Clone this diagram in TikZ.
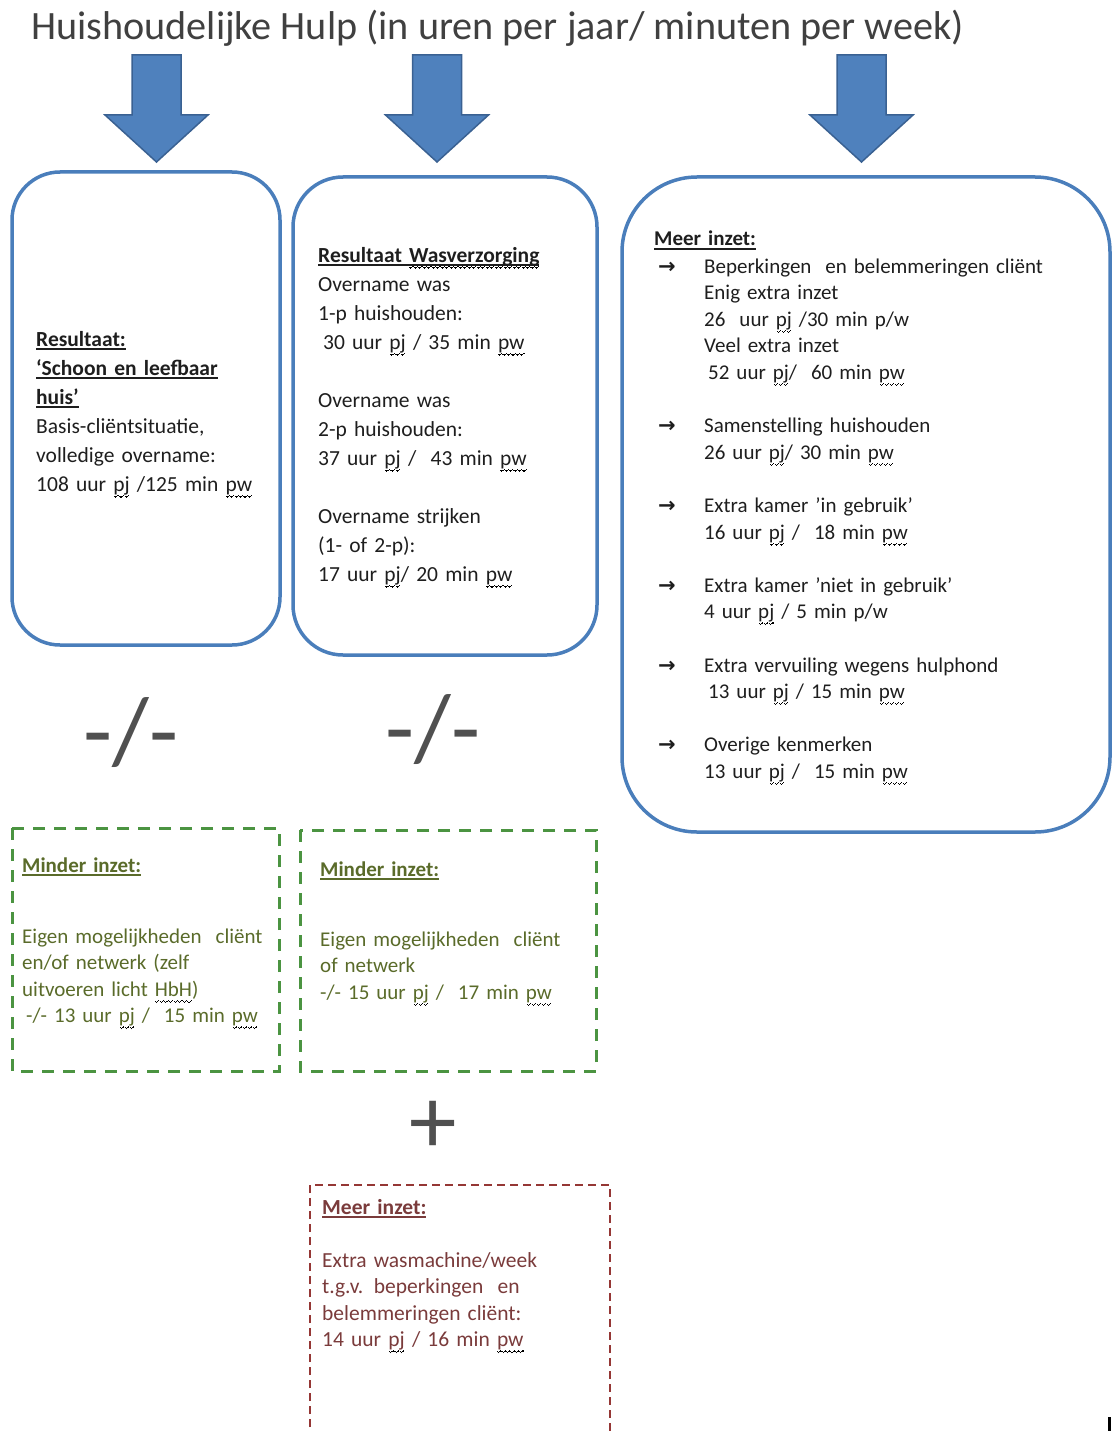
\documentclass[tikz,border=0pt]{standalone}
\usepackage{fontspec}
\setmainfont{Carlito}
\newfontfamily\djv{DejaVu Sans}
\newsavebox\wavebox
\sbox\wavebox{\rule[-5.6pt]{1.1pt}{1.1pt}\rule[-6.5pt]{1.1pt}{1.1pt}\rule[-5.6pt]{1.1pt}{1.1pt}\rule[-4.7pt]{1.1pt}{1.1pt}}
\newcommand\ul[1]{\setbox0\hbox{#1}\rlap{\rule[-3.8pt]{\wd0}{1.4pt}}\box0\relax}
\newcommand\spw[1]{\setbox0\hbox{#1}\rlap{\textcolor{red}{\hbox to \wd0{\xleaders\copy\wavebox\hfil}}}\box0\relax}
\definecolor{boxblue}{HTML}{4A7EBB}
\definecolor{arrowfill}{HTML}{4F81BD}
\definecolor{arrowline}{HTML}{3A6192}
\definecolor{dashgreen}{HTML}{4B9441}
\definecolor{dashred}{HTML}{953735}
\definecolor{greentxt}{HTML}{5A6B2A}
\definecolor{redtxt}{HTML}{7A3B3B}
\definecolor{maintxt}{HTML}{1E1E1E}
\definecolor{titlegray}{HTML}{404040}
\definecolor{symgray}{HTML}{505050}
\tikzset{
  bigarrow/.style={fill=arrowfill, draw=arrowline, line width=1.5pt, line join=miter},
  rbox/.style={draw=boxblue, line width=3.5pt},
  gbox/.style={draw=dashgreen, line width=3pt, dash pattern=on 12pt off 9pt},
  rdbox/.style={draw=dashred, line width=2.5pt, dash pattern=on 8pt off 5pt},
  txt/.style={anchor=base west, inner sep=0pt, align=left, text width=440pt,
    text=maintxt, font=\fontsize{21.5}{29}\selectfont},
  txtb/.style={txt, font=\fontsize{21}{26.6}\selectfont},
  gtxt/.style={txtb, text=greentxt},
  rtxt/.style={txt, font=\fontsize{21.5}{26.6}\selectfont, text=redtxt},
  arrowtxt/.style={anchor=base west, inner sep=0pt, text=maintxt, font=\djv\bfseries\fontsize{21}{21}\selectfont},
  symb/.style={inner sep=0pt, text=symgray},
}
\begin{document}
\begin{tikzpicture}[x=1pt,y=-1pt]
\useasboundingbox (0,0) rectangle (1113,1431);
% title
\node[anchor=base west, inner sep=0pt, text=titlegray, font=\fontsize{40.2}{40}\selectfont] (title) at (31,40)
  {Huishoudelijke Hulp (in uren per jaar/ minuten per week)};
% arrows
\foreach \cx/\nm in {156.5/a1, 437/a2, 861.5/a3}{
  \filldraw[bigarrow] (\cx-24.5,55) -- (\cx+24.5,55) -- (\cx+24.5,115) -- (\cx+51.5,115)
    -- (\cx,162) -- (\cx-51.5,115) -- (\cx-24.5,115) -- cycle;
  \coordinate (\nm) at (\cx,162);
}
% rounded boxes
\draw[rbox, rounded corners=48pt] (12,172) rectangle (280,645);
\draw[rbox, rounded corners=50pt] (293,177) rectangle (597,655);
\draw[rbox, rounded corners=75pt] (622,177) rectangle (1110,832);
% box 1 text
\node[txt] (t1) at (36,346) {%
\textbf{\ul{Resultaat:}}\\
\textbf{\ul{‘Schoon en leefbaar}}\\
\textbf{\ul{huis’}}\\
Basis-cliëntsituatie,\\
volledige overname:\\
108 uur \spw{pj} /125 min \spw{pw}};
% box 2 text
\node[txt] (t2) at (318,262) {%
\textbf{\ul{Resultaat \spw{Wasverzorging}}}\\
Overname was\\
1-p huishouden:\\
\hspace*{5pt}30 uur \spw{pj} / 35 min \spw{pw}\\
\mbox{}\\
Overname was\\
2-p huishouden:\\
37 uur \spw{pj} /\ \ 43 min \spw{pw}\\
\mbox{}\\
Overname strijken\\
(1- of 2-p):\\
17 uur \spw{pj}/ 20 min \spw{pw}};
% box 3 text
\node[txtb] (t3h) at (654,246) {\textbf{\ul{Meer inzet:}}};
\foreach \y [count=\i] in {273,432.6,512.4,592.2,672,751.8}
  \node[arrowtxt] (ar\i) at (658,\y) {→};
\node[txtb] (t3) at (704,273) {%
Beperkingen\ \ en belemmeringen cliënt\\
Enig extra inzet\\
26\ \ uur \spw{pj} /30 min p/w\\
Veel extra inzet\\
\hspace*{4pt}52 uur \spw{pj}/\ \ 60 min \spw{pw}\\
\mbox{}\\
Samenstelling huishouden\\
26 uur \spw{pj}/ 30 min \spw{pw}\\
\mbox{}\\
Extra kamer ’in gebruik’\\
16 uur \spw{pj} /\ \ 18 min \spw{pw}\\
\mbox{}\\
Extra kamer ’niet in gebruik’\\
4 uur \spw{pj} / 5 min p/w\\
\mbox{}\\
Extra vervuiling wegens hulphond\\
\hspace*{4pt}13 uur \spw{pj} / 15 min \spw{pw}\\
\mbox{}\\
Overige kenmerken\\
13 uur \spw{pj} /\ \ 15 min \spw{pw}};
% -/- symbols
\node[symb, font=\fontsize{95}{95}\selectfont] (m1) at (131,733) {-/-};
\node[symb, font=\fontsize{95}{95}\selectfont] (m2) at (433,730) {-/-};
% green dashed boxes
\draw[gbox] (12,828) rectangle (279,1071);
\draw[gbox] (300,830) rectangle (596,1071);
\node[gtxt] (g1h) at (22,872) {\textbf{\ul{Minder inzet:}}};
\node[gtxt] (g1) at (22,943) {%
Eigen mogelijkheden\ \ cliënt\\
en/of netwerk (zelf\\
uitvoeren licht \spw{HbH})\\
\hspace*{4pt}-/- 13 uur \spw{pj} /\ \ 15 min \spw{pw}};
\node[gtxt] (g2h) at (320,876) {\textbf{\ul{Minder inzet:}}};
\node[gtxt] (g2) at (320,946) {%
Eigen mogelijkheden\ \ cliënt\\
of netwerk\\
-/- 15 uur \spw{pj} /\ \ 17 min \spw{pw}};
% plus
\node[symb, font=\fontsize{95}{95}\selectfont] (plus) at (433,1127) {+};
% red dashed box
\draw[rdbox] (310,1440) -- (310,1185) -- (610,1185) -- (610,1440);
\node[rtxt] (rh) at (322,1214) {\textbf{\ul{Meer inzet:}}};
\node[rtxt] (r1) at (322,1267) {%
Extra wasmachine/week\\
t.g.v. beperkingen\ \ en\\
belemmeringen cliënt:\\
14 uur \spw{pj} / 16 min \spw{pw}};
% small mark bottom right
\fill[black] (1108,1417) rectangle (1111,1431);
\end{tikzpicture}
\end{document}
